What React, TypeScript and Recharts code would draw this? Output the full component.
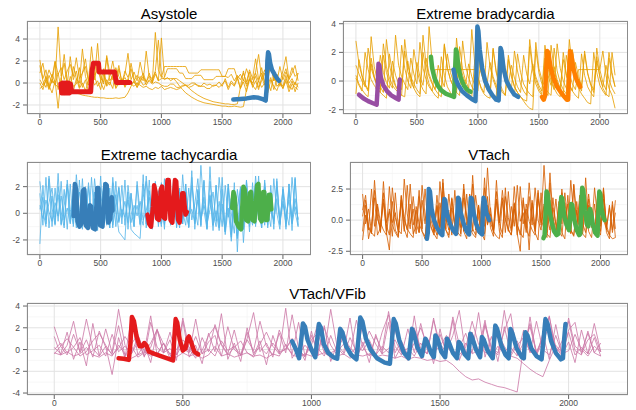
import { LineChart, Line, XAxis, YAxis, CartesianGrid } from 'recharts'

const STEP = 25
const X_TICKS = [0, 500, 1000, 1500, 2000]
const X_MINOR = [250, 750, 1250, 1750]
const X_DOMAIN: [number, number] = [-106, 2231]

const RED = '#E41A1C'
const BLUE = '#377EB8'
const GREEN = '#4DAF4A'
const PURPLE = '#984EA3'
const ORANGE = '#FF7F00'

// ---------- Asystole (background traces sampled every 25)
const asy1 = [2.1, 0.4, 1.2, -0.3, 0.8, 0.1, 5.1, 0.6, 1.8, -0.2, 2.4, 0.3, 1.1, -0.4, 0.9, 2.2, 0.2, 1.4, 0.5, 3.6, 0.1, 1.3, -0.2, 0.7, 2.0, 0.4, 1.6, 0.0, 0.8, 2.7, 0.3, 1.0, 0.2, 1.9, 0.6, 0.1, 0.9, 0.0, 4.6, 1.2, 0.5, 1.5, 1.5, 1.5, 1.5, 1.5, 1.5, 1.5, 1.5, 0.9, 0.9, 0.9, 0.9, 1.2, 1.2, 1.2, 1.2, 1.2, 1.2, 1.2, 0.6, 0.6, 0.5, 0.8, 0.2, 0.7, 0.3, 0.9, 0.1, 1.2, 0.4, 2.2, 0.3, 0.9, 0.1, 0.6, 1.8, 0.2, 0.7, 0.0, 1.1, 2.4, 0.3, 0.9, 1.6, 0.2]
const asy2 = [-0.5, -0.3, 0.2, -0.6, 0.4, -0.2, 0.9, -0.5, 0.1, -0.7, 0.6, -0.3, -0.1, 1.4, -0.4, 0.3, -0.8, 0.5, -0.2, 0.2, -0.6, 0.8, -0.3, 0.1, -0.5, 1.1, -0.2, 0.4, -0.4, 0.2, -0.1, -0.3, 0.0, -0.2, -0.4, -0.3, -0.5, -0.6, -0.4, -0.5, -0.3, -0.6, -0.5, -0.4, -0.5, -0.6, -0.5, -0.3, -0.2, -0.4, -0.3, -0.1, -0.2, -0.3, 0.0, -0.2, -0.1, -0.3, -0.2, 0.1, -0.3, 0.4, -0.4, 0.2, -0.2, 0.6, -0.5, 0.3, -0.1, 1.0, -0.4, 0.2, -0.6, 0.5, -0.2, 0.1, -0.7, 0.8, -0.3, 0.0, -0.5, 0.4, -0.2, -0.6, 0.1, -0.4]
const asy3 = [1.6, 0.2, -0.4, 0.7, 0.0, 1.9, -0.6, 0.3, 2.6, 0.1, -0.3, 1.5, 0.4, 0.0, 3.1, 0.6, -0.2, 1.0, 0.3, 1.7, 0.8, -0.1, 2.3, 0.2, 0.6, -0.4, 1.3, 0.1, 0.5, 0.0, 1.8, 0.4, -0.2, 0.6, 0.2, 2.9, 0.5, 0.1, 1.1, 3.9, 0.7, 0.3, 0.5, 0.2, 0.4, 0.1, -0.3, -0.6, -0.9, -1.1, -1.3, -1.45, -1.6, -1.7, -1.8, -1.85, -1.9, -1.95, -2.0, -2.05, -2.1, -2.1, -2.15, -2.15, -2.1, -2.15, -2.2, -2.15, -0.6, 0.4, -0.2, 0.9, 0.1, 1.4, -0.1, 0.5, 2.1, 0.2, 0.8, -0.3, 0.6, 1.3, 0.0, 0.4, -0.2, 0.9]
const asy4 = [0.3, -0.2, 0.6, -0.5, 0.2, -0.1, -0.4, 0.1, -0.5, -0.3, -0.6, -0.8, -0.9, -1.0, -1.1, -1.15, -1.2, -1.25, -1.3, -1.3, -1.35, -1.35, -1.4, -1.4, -1.4, -1.35, -1.4, -1.35, -1.3, -0.9, -0.3, 0.2, -0.4, 0.1, 0.6, -0.2, 0.3, 0.0, 0.8, 0.2, 0.4, 0.4, 0.4, 0.4, 0.4, 0.4, 0.2, 0.0, -0.2, -0.45, -0.7, -0.9, -1.1, -1.25, -1.4, -1.5, -1.6, -1.7, -1.75, -1.8, -1.85, -1.9, -1.9, -1.95, -1.95, -1.9, -0.4, 1.1, -0.3, 0.4, 0.0, 0.6, -0.4, 0.2, 0.9, -0.2, 0.5, -0.6, 0.3, 0.1, -0.3, 0.7, -0.5, 0.2, -0.8, 0.0]
const asy5 = [0.9, 1.8, 0.2, 1.2, 0.5, 2.0, 0.8, 1.4, 0.3, 1.1, 1.7, 0.6, 2.3, 0.4, 0.9, 1.5, 0.2, 3.3, 0.7, 1.2, 0.4, 0.1, 2.5, 0.9, 0.3, 1.4, 0.6, 0.0, 1.1, 0.5, 1.3, 0.2, 0.7, 0.3, 0.9, 0.1, 0.6, 0.4, 1.0, 0.2, 4.1, 0.5, 1.3, 1.3, 1.3, 1.3, 0.9, 0.9, 0.4, 0.4, 0.4, 0.7, 0.7, 0.7, 0.3, 0.3, 0.3, 0.3, 0.6, 0.6, 0.6, 0.6, 1.3, 1.3, 1.3, 0.4, 0.8, 0.2, 1.3, 0.5, 0.3, 1.0, 2.6, 0.4, 1.2, 0.2, 1.8, 0.7, 0.1, 1.5, 0.3, 1.0, 0.4, 1.4, 0.6, 0.9]
const asy6 = [0.0, -0.6, 0.3, -0.2, -0.9, 0.2, -2.3, 0.5, -1.1, 0.1, -0.3, -0.8, 0.4, -0.5, 0.0, -0.7, 0.2, -0.4, 0.6, -0.3, 0.1, -0.6, 0.3, -0.2, 0.8, -0.5, 0.0, 0.2, -0.3, 0.4, -0.1, 0.1, -0.4, 0.3, -0.2, 0.0, 0.2, -0.1, 0.1, 0.0, -0.2, -0.3, -0.3, -0.1, -0.1, -0.4, -0.4, -0.2, -0.2, -0.2, 0.0, 0.0, -0.3, -0.3, -0.3, -0.5, -0.5, -0.2, -0.2, -0.4, -0.1, 0.2, -0.6, 0.0, -0.3, 0.4, -0.5, 0.1, -0.8, 0.3, -0.2, -0.6, 0.2, -0.4, 0.0, -0.9, 0.3, -0.3, -0.7, 0.1, -0.5, 0.2, -0.8, -0.1, -0.4, -0.6]

const asyRedX = [172, 180, 188, 196, 204, 212, 220, 228, 236, 244, 252, 262, 300, 360, 418, 428, 440, 470, 482, 488, 560, 615, 622, 630, 740]
const asyRedY = [-0.1, -0.9, 0.0, -0.9, 0.0, -0.9, 0.0, -0.9, 0.0, -0.9, -0.1, -0.8, -0.8, -0.8, -0.8, 1.0, 1.8, 1.8, 1.8, 1.0, 1.0, 1.0, 0.5, 0.05, 0.05]
const asyBlueX = [1592, 1650, 1700, 1760, 1800, 1840, 1858, 1866, 1872, 1878, 1885, 1895, 1910, 1930, 1950, 1968]
const asyBlueY = [-1.5, -1.45, -1.4, -1.3, -1.35, -1.5, -1.6, -0.5, 2.0, 2.8, 2.6, 1.8, 1.2, 0.8, 0.45, 0.2]

// ---------- Extreme bradycardia
const bra1 = [2.8, 1.2, 0.3, -0.3, -0.7, 3.1, 1.0, 0.1, -0.4, -0.8, 2.9, 1.1, 0.2, -0.4, -0.7, 2.5, 0.9, 0.0, -0.5, 2.2, 0.8, -0.1, -0.6, -0.9, 3.8, 1.3, 0.3, -0.3, -0.7, 2.6, 0.9, 0.1, -0.4, -0.8, 2.4, 0.8, 0.0, -0.5, 3.6, 1.2, 0.2, -0.4, -0.8, 2.7, 1.0, 0.1, -0.5, -0.9, 2.3, 0.8, -0.1, -0.6, 2.1, 0.7, -0.2, -0.7, -1.0, 2.9, 1.0, 0.1, -0.5, -0.9, 2.5, 0.9, 0.0, -0.6, 2.6, 0.9, 0.0, -0.5, -0.9, 2.2, 0.7, -0.2, -0.7, 2.1, 0.6, -0.3, -0.8, 2.3, 0.8, -0.1, -0.6, 2.0, 0.6, -0.4]
const bra2 = [0.4, -0.2, -0.6, -0.9, -1.1, 1.6, 0.3, -0.4, -0.8, -1.0, -1.2, 1.9, 0.5, -0.3, -0.7, -1.0, -1.1, 1.4, 0.2, -0.5, -0.9, -1.1, 2.0, 0.6, -0.2, -0.7, -1.0, -1.2, 1.7, 0.4, -0.4, -0.8, -1.1, 3.0, 0.9, -0.1, -0.6, -0.9, -1.1, 1.5, 0.3, -0.5, -0.9, -1.1, -1.2, 2.2, 0.6, -0.3, -0.8, -1.0, 1.8, 0.4, -0.4, -0.8, -1.1, -1.3, -1.4, 2.4, 0.7, -0.2, -0.7, -1.0, -1.2, 1.6, 0.3, -0.5, -0.9, -1.1, 2.0, 0.5, -0.3, -0.7, -1.0, -1.2, 1.9, 0.4, -0.4, -0.8, -1.1, 1.7, 0.3, -0.5, -0.9, -1.1, 2.0, 0.4]
const bra3 = [1.1, 0.5, 0.0, -0.4, 2.3, 0.9, 0.2, -0.3, -0.6, 1.8, 0.6, -0.1, -0.5, 3.2, 1.1, 0.3, -0.2, -0.6, 1.6, 0.5, -0.2, 2.7, 0.9, 0.1, -0.4, -0.7, 0.8, 0.8, 0.8, 0.8, 0.8, 0.8, 0.8, 0.8, 0.8, 0.8, 0.8, 0.8, 0.8, 0.8, 1.9, 0.6, -0.1, -0.6, -0.9, 2.3, 0.7, -0.1, -0.6, -1.0, 1.5, 0.3, -0.4, -0.8, -1.1, -1.4, -1.7, -1.9, -2.0, 2.2, 0.6, -0.2, -0.7, -1.0, 2.5, 0.8, -0.1, -0.6, -1.0, 1.8, 0.5, -0.2, -0.6, 0.8, 0.8, 0.8, 0.8, 0.8, 0.8, 0.8, 0.8, 2.1, 0.4, -0.5, -1.0, -1.9]
const bra4 = [0.2, -0.3, -0.7, 2.0, 0.8, 0.1, -0.3, -0.6, -0.8, 2.6, 1.0, 0.2, -0.3, -0.6, -0.8, -1.0, 2.9, 1.1, 0.3, -0.2, -0.6, -0.9, 3.2, 1.2, 0.3, -0.2, -0.6, -0.9, -1.1, 2.5, 0.9, 0.1, -0.4, -0.8, -1.0, 2.8, 1.0, 0.2, -0.4, -0.7, 2.0, 0.7, 0.0, -0.5, -0.8, -1.0, -1.2, 2.4, 0.8, 0.0, -0.5, -0.8, -1.1, 1.9, 0.6, -0.2, -0.6, -0.9, -1.1, 2.7, 0.9, 0.1, -0.4, -0.8, -1.0, 2.3, 0.7, -0.1, -0.6, -0.9, 2.9, 0.9, 0.0, -0.5, -0.9, -1.2, -1.5, -1.6, 2.0, 0.6, -0.3, -0.7, -1.0, 1.6, 0.4, -0.4]
const bra5 = [-0.9, 1.5, 0.4, -0.2, -0.6, 1.2, 0.3, -0.3, 1.8, 0.6, -0.1, -0.5, 1.4, 0.4, -0.2, -0.6, 2.1, 0.7, 0.0, -0.5, 1.3, 0.3, -0.3, 1.6, 0.5, -0.1, -0.6, 1.1, 0.2, -0.4, 1.9, 0.6, -0.1, -0.6, 1.4, 0.4, -0.2, 1.2, 0.3, -0.3, -0.7, 1.7, 0.5, -0.2, 1.3, 0.3, -0.3, -0.7, 1.5, 0.4, -0.2, 1.1, 0.2, -0.4, -0.8, 1.8, 0.5, -0.2, 1.2, 0.3, -0.3, -0.7, 1.6, 0.4, -0.3, 1.0, 0.1, -0.5, 1.5, 0.4, -0.2, -0.7, 1.3, 0.3, -0.3, 1.9, 0.5, -0.2, -0.6, 1.4, 0.3, -0.4, 1.1, 0.1, -0.5, -0.9]

const braPurpleX = [25, 60, 100, 140, 170, 178, 185, 192, 205, 225, 255, 290, 330, 350, 354, 360]
const braPurpleY = [-0.95, -1.2, -1.4, -1.55, -1.65, -0.5, 1.2, 1.1, 0.2, -0.3, -0.7, -1.0, -1.2, -1.3, -0.5, 0.1]
const braGreenX = [615, 625, 645, 670, 700, 740, 790, 805, 812, 820, 828, 840, 860, 885, 910, 940]
const braGreenY = [1.7, 0.9, 0.2, -0.3, -0.65, -0.9, -1.05, -1.1, 0.5, 2.2, 2.0, 1.0, 0.2, -0.3, -0.6, -0.75]
const braBlueX = [800, 815, 840, 870, 910, 950, 980, 988, 996, 1004, 1015, 1035, 1060, 1090, 1120, 1150, 1170, 1178, 1186, 1194, 1210, 1235, 1265, 1300, 1330]
const braBlueY = [0.8, 0.2, -0.3, -0.7, -1.0, -1.25, -1.4, 0.5, 3.8, 3.5, 2.2, 0.9, 0.0, -0.6, -1.0, -1.3, -1.35, 0.3, 2.3, 2.1, 0.9, 0.0, -0.5, -0.95, -1.1]
const braOrangeX = [1525, 1540, 1552, 1560, 1568, 1578, 1595, 1620, 1650, 1690, 1730, 1740, 1748, 1756, 1765, 1780, 1800, 1820, 1840]
const braOrangeY = [-1.1, -1.3, -1.0, 0.8, 2.1, 2.0, 1.0, 0.2, -0.4, -0.9, -1.3, -1.3, 0.5, 2.1, 1.9, 1.0, 0.3, -0.1, -0.4]

// ---------- Extreme tachycardia
const tac1 = [-2.3, 2.1, -0.8, 2.6, -1.0, 1.9, -0.6, 2.4, -0.9, 2.2, -0.7, 1.8, -1.1, 2.5, -0.8, 2.0, -0.9, 2.7, -0.6, 1.7, -1.0, 2.3, -0.8, 1.9, -1.1, 2.4, -0.7, 2.1, -0.9, 1.6, -1.2, -1.5, -1.7, -1.9, 2.2, -0.8, 2.5, -1.0, 1.8, -0.7, 2.3, -0.9, 2.0, -0.6, 2.6, -1.0, 1.9, -0.8, 2.2, -1.1, 2.7, -0.8, 1.7, -1.0, 2.4, -1.2, 3.5, -0.9, 2.1, -1.1, 1.8, -1.4, 2.2, -1.6, 1.5, -1.9, 2.0, -2.2, 1.3, -1.4, 2.3, -1.0, 1.9, -0.7, 2.5, -1.1, 2.1, -0.8, 2.4, -0.9, 1.8, -1.2, 2.2, -0.7, 2.6, -1.0]
const tac2 = [0.3, 1.2, -0.5, 0.8, 1.9, -0.3, 1.4, -0.8, 0.6, 2.1, -0.4, 1.0, -0.9, 1.6, 0.2, -0.7, 2.3, -0.2, 1.1, -0.6, 0.7, 1.8, -0.5, 1.3, -0.9, 0.4, 2.0, -0.3, 0.9, -0.7, 1.5, -0.4, 0.6, -0.8, 1.2, 2.4, -0.6, 0.8, -0.4, 1.7, -0.8, 0.5, 2.2, -0.3, 1.0, -0.7, 1.4, 0.1, -0.9, 1.9, -0.5, 0.7, 2.6, -0.4, 1.2, -0.8, 0.3, 1.6, -0.6, 0.9, -1.0, 2.1, -0.3, 1.1, -0.7, 0.5, 1.8, -0.6, 1.3, -0.4, 0.8, 2.3, -0.5, 1.0, -0.9, 1.5, 0.2, -0.6, 2.0, -0.4, 0.9, -0.8, 1.7, -0.3, 1.1, -0.5]
const tac3 = [1.5, -0.9, 2.7, -1.1, 1.3, -0.8, 3.0, -0.9, 1.8, -1.2, 2.2, -1.0, 1.2, -0.9, 2.6, -1.1, 2.0, -0.8, 1.6, -1.3, 2.8, -0.9, 1.4, -1.1, 2.3, -1.0, 1.9, -0.8, 2.5, -1.2, 1.5, -1.0, 2.1, -0.9, 2.9, -1.1, 1.7, -0.8, 2.4, -1.0, 1.3, -1.2, 2.6, -0.9, 2.0, -1.1, 1.6, -0.8, 2.2, -1.0, 3.2, -1.2, 1.8, -0.9, 2.5, -1.1, 1.4, -1.3, 2.1, -1.0, 2.7, -1.4, 1.9, -1.8, 2.3, -2.9, 1.7, -1.2, 2.4, -1.0, 1.5, -0.8, 2.8, -1.1, 2.0, -0.9, 1.6, -1.2, 2.6, -0.8, 1.8, -1.0, 2.2, -1.3, 2.7, -0.9]
const tac4 = [0.6, -0.4, 1.0, 0.1, -0.6, 0.8, -0.2, 1.3, -0.5, 0.4, -0.8, 0.9, 0.0, -0.5, 1.5, -0.3, 0.7, -0.7, 0.2, 1.1, -0.4, 0.5, -0.9, 0.8, -0.1, 1.4, -0.6, 0.3, -0.3, 1.0, -0.7, 0.6, -0.2, 0.9, -0.5, 0.2, 1.2, -0.6, 0.4, -0.3, 0.8, -0.8, 1.1, -0.1, 0.5, -0.6, 0.9, -0.4, 1.6, -0.2, 0.3, -0.7, 1.0, -0.5, 0.6, -0.3, 1.3, -0.9, 0.2, -1.3, 0.7, -1.6, 0.4, -2.1, 0.8, -1.7, 0.5, -1.1, 1.2, -0.4, 0.6, -0.8, 0.9, -0.2, 1.4, -0.6, 0.3, -0.5, 1.1, -0.7, 0.7, -0.3, 1.0, -0.8, 0.5, -0.4]
const tac5 = [2.4, 0.2, -1.0, 2.8, 0.4, -0.9, 2.0, 0.1, -1.1, 2.5, 0.3, -0.8, 2.9, 0.2, -1.2, 1.9, 0.0, -1.0, 2.6, 0.4, -0.9, 2.2, 0.1, -1.1, 2.7, 0.3, -1.4, -1.7, -2.0, 2.1, 0.2, -1.0, 2.4, 0.0, -0.9, 2.8, 0.3, -1.2, 2.0, 0.1, -1.0, 2.6, 0.4, -0.8, 2.3, 0.2, -1.1, 2.9, 0.0, -1.0, 2.1, 0.3, -0.9, 3.6, 0.2, -1.2, 2.4, 0.1, -1.0, 2.7, 0.3, -1.3, 2.2, 0.0, -1.5, 1.8, -0.2, -1.2, 2.5, 0.2, -0.9, 2.8, 0.1, -1.1, 2.3, 0.3, -1.0, 2.6, 0.0, -1.2, 2.0, 0.2, -0.9, 2.7, 0.1, -1.0]

const tacBlueX = [278, 288, 298, 310, 325, 340, 355, 365, 378, 395, 412, 422, 435, 455, 472, 482, 495, 515, 540, 550, 563, 580, 592, 598]
const tacBlueY = [-0.2, 2.2, 1.8, -0.6, -1.0, -0.8, 1.7, 1.8, -0.9, -1.1, 0.6, 0.5, -1.1, -1.2, 1.9, 1.9, -0.9, -1.0, 2.2, 2.1, -0.7, -0.4, 1.2, 0.2]
const tacRedX = [885, 900, 915, 930, 940, 952, 965, 980, 995, 1005, 1018, 1030, 1050, 1060, 1075, 1090, 1112, 1122, 1138, 1150, 1172, 1182, 1198, 1210]
const tacRedY = [-0.1, -0.8, -1.0, 0.5, 2.1, 1.6, -0.4, -0.5, 1.8, 2.0, -0.3, -0.4, 2.5, 2.5, -0.5, -0.7, 2.5, 2.4, -0.5, -0.7, 1.5, 1.5, -0.1, 0.1]
const tacGreenX = [1582, 1593, 1603, 1615, 1635, 1655, 1665, 1675, 1685, 1698, 1712, 1727, 1737, 1750, 1765, 1788, 1798, 1812, 1825, 1838, 1846, 1858, 1872, 1886, 1895, 1905]
const tacGreenY = [0.4, 1.6, 1.2, -0.6, -1.0, -1.2, 0.4, 2.0, 1.8, -0.5, -0.6, 1.5, 1.6, -0.5, -0.6, 2.1, 2.2, -0.4, -0.6, 1.6, 1.6, -0.5, -0.5, 1.4, 1.4, 0.3]

// ---------- VTach
const vt1 = [0.8, 2.0, -0.6, -1.1, 2.4, 0.3, -0.9, 1.7, -0.4, -1.2, 2.6, 0.2, -0.8, -1.1, 3.3, 0.5, -0.7, 1.9, -0.3, -1.0, 2.8, 0.4, -0.8, 1.6, -0.5, -1.2, 3.1, 0.6, -0.7, 2.1, -0.2, -1.0, 1.8, -0.6, 2.9, 0.3, -0.9, 3.6, 0.2, -1.1, 1.5, -0.5, 4.2, 0.4, -0.8, 2.3, -0.3, -1.1, 1.9, 0.2, -0.9, 2.7, -0.4, -1.2, 1.6, -0.6, 3.0, 0.3, -0.9, 2.2, -0.2, 4.4, 0.5, -0.8, 1.8, -0.5, -1.1, 2.5, 0.1, -0.9, 3.2, 0.4, -0.7, 2.0, -0.3, -1.0, 1.7, -0.6, 2.6, 0.2, -0.9, 2.1, -0.4, -1.2, 1.5, -0.7]
const vt2 = [-0.9, 1.2, -1.5, -0.3, 1.8, -1.2, -0.6, 2.2, -1.0, -2.4, 1.5, -0.8, -1.3, 2.0, -0.7, -1.4, 1.3, -1.1, -0.5, 2.4, -0.9, -1.5, 1.6, -0.6, -1.2, 1.1, -1.0, 2.3, -0.8, -1.4, 1.7, -0.5, -1.1, 1.4, -0.9, -1.5, 2.1, -0.7, -1.2, 1.2, -1.0, -1.6, 1.9, -0.6, -1.3, 1.5, -0.9, -1.4, 2.6, -0.8, -1.2, 1.3, -1.1, -2.5, 1.8, -0.7, -1.3, 1.4, -1.0, -1.6, 2.2, -0.9, -1.4, 1.6, -0.6, -1.2, 1.1, -1.0, -1.5, 2.0, -0.8, -1.3, 1.5, -0.7, -1.1, 1.9, -0.9, -1.4, 1.3, -0.6, -1.2, 1.7, -1.0, -1.5, 1.2, -1.4]
const vt3 = [2.1, -0.3, 0.9, -1.0, 3.2, 0.1, -0.6, 1.4, -0.9, 2.7, -0.2, 0.6, -1.1, 1.9, 0.3, -0.8, 2.9, -0.4, 0.8, -1.0, 1.6, -0.3, 2.3, 0.0, -0.9, 1.2, -0.5, 3.0, 0.2, -0.8, 1.8, -0.2, 0.7, -1.1, 2.5, -0.4, 1.0, -0.9, 2.0, 0.1, -0.7, 3.4, -0.3, 0.5, -1.0, 1.7, -0.2, 2.4, 0.2, -0.9, 1.1, -0.5, 2.8, -0.1, 0.6, -1.0, 1.9, -0.4, 2.6, 0.0, -0.8, 1.3, -0.6, 3.8, 0.3, -0.9, 1.5, -0.3, 2.2, -0.1, -1.0, 2.9, 0.4, -0.7, 1.4, -0.5, 2.1, 0.1, -0.9, 1.8, -0.3, 2.5, -0.6, 1.0, -0.8, 1.6]
const vt4 = [-1.6, 0.4, -0.5, -1.0, -1.3, 1.3, -0.2, -0.8, -1.2, 0.9, -0.4, -1.0, -1.4, 1.6, 0.0, -0.7, -1.1, -1.4, 1.1, -0.3, -0.9, -1.3, 0.7, -0.5, -1.1, -1.5, 1.4, -0.1, -0.8, -1.2, 1.0, -0.4, -1.0, -1.3, 1.8, 0.1, -0.6, -1.1, -1.4, 0.8, -0.5, -1.1, 1.2, -0.2, -0.9, -1.3, -1.5, 1.5, 0.0, -0.7, -1.2, 0.9, -0.4, -1.0, -1.4, 1.3, -0.1, -0.8, -1.2, 1.7, 0.1, -0.7, -1.1, -1.4, 1.0, -0.3, -0.9, -1.3, 1.4, -0.2, -0.8, -1.2, 0.8, -0.5, -1.1, -1.4, 1.2, -0.1, -0.8, -1.3, 1.6, 0.0, -0.7, -1.2, -1.5, -1.4]
const vt5 = [0.3, 1.6, -0.8, 2.5, -0.5, 1.1, -1.0, 3.1, -0.2, 0.7, -1.3, 2.2, -0.6, 1.4, -0.9, 2.8, -0.3, 0.9, -1.1, 1.9, -0.7, 2.5, -0.4, 1.3, -1.0, 2.0, -0.6, 3.3, -0.1, 0.8, -1.2, 2.4, -0.5, 1.5, -0.9, 2.1, -0.3, 2.9, -0.8, 1.2, -1.1, 2.6, -0.4, 1.0, -0.9, 3.2, -0.2, 1.8, -1.0, 2.3, -0.6, 1.4, -1.2, 2.7, -0.3, 0.9, -2.4, 1.6, -0.7, 2.4, -0.4, 1.1, -1.0, 3.0, -0.5, 1.7, -0.8, 2.2, -0.3, 1.3, -1.1, 2.8, -0.6, 1.5, -0.9, 3.4, -0.2, 1.0, -1.2, 2.0, -0.5, 2.6, -0.8, 1.2, -1.0, 0.6]

const vtBlueX = [540, 548, 556, 566, 580, 600, 625, 650, 670, 678, 686, 694, 710, 735, 760, 785, 795, 803, 810, 825, 850, 875, 895, 902, 910, 918, 933, 955, 980, 1005, 1010, 1017, 1025, 1040, 1065]
const vtBlueY = [-1.5, -1.0, 2.5, 2.3, 0.9, 0.0, -0.6, -1.0, -1.2, 0.2, 1.7, 1.6, 0.5, -0.3, -0.8, -1.1, 0.3, 1.8, 1.7, 0.6, -0.3, -0.9, -1.15, 0.5, 1.8, 1.7, 0.6, -0.3, -0.9, -1.15, 0.5, 1.8, 1.6, 0.6, 0.0]
const vtGreenX = [1520, 1530, 1538, 1546, 1555, 1570, 1590, 1610, 1630, 1645, 1660, 1670, 1678, 1695, 1715, 1735, 1745, 1755, 1763, 1780, 1800, 1820, 1830, 1838, 1846, 1855, 1870, 1885, 1898, 1905, 1912, 1920, 1935, 1955, 1975, 1982, 1990, 1998, 2010, 2025, 2035]
const vtGreenY = [-1.45, -1.2, 0.5, 2.3, 2.1, 0.8, -0.2, -0.9, -1.2, -1.1, 0.5, 1.85, 1.75, 0.3, -0.4, -0.8, 0.3, 1.3, 1.2, 0.0, -0.8, -1.2, -1.1, 1.0, 2.6, 2.4, 0.8, -0.3, -0.5, 0.5, 0.9, 0.6, -0.3, -1.0, -1.25, 0.6, 2.3, 2.1, 0.9, 0.2, 0.0]

// ---------- VTach/VFib
const vf1 = [2.1, 0.3, -0.5, 1.4, -0.2, 2.8, 0.1, -0.6, 1.9, -0.3, 3.7, 0.4, -0.4, 1.2, -0.7, 2.5, 0.2, -0.3, 1.6, -0.5, 2.9, 0.0, -0.8, 1.1, -0.2, 2.3, 0.5, -0.4, 1.8, -0.6, 0.9, -0.1, 2.6, 0.3, -0.5, 1.5, -0.3, 3.2, 0.1, -0.7, 1.3, -0.2, 2.0, 0.4, -0.5, 1.7, -0.4, 2.7, 0.2, -0.6, 1.2, -0.1, 3.5, 0.3, -0.5, 1.9, -0.3, 2.4, 0.0, -0.7, 1.4, -0.2, 3.0, 0.4, -0.6, 1.6, -0.4, 2.2, 0.1, -0.5, 3.6, 0.2, -0.6, 1.8, -0.3, 2.6, 0.0, -0.5, 1.3, -0.4, 2.9, 0.3, -0.2, 1.5, -0.3, 0.6]
const vf2 = [-0.3, -0.5, -0.2, -0.6, -0.4, 0.2, -0.5, -0.7, -0.3, -0.6, 0.4, -0.4, -0.8, -0.5, -0.2, -0.6, -0.4, 0.6, -0.5, -0.7, -0.3, -0.6, -0.4, -0.8, -0.5, 0.3, -0.6, -0.4, -0.7, -0.5, -0.3, -0.6, -0.5, -0.8, -0.4, -0.6, 0.5, -0.5, -0.7, -0.4, -0.6, -0.5, -0.3, -0.7, -0.6, -0.4, -0.8, -0.5, -0.6, -0.4, -0.7, -0.5, -0.6, -0.8, -0.6, -0.9, -0.7, -0.8, -1.0, -0.9, -1.1, -1.0, -1.4, -2.0, -2.5, -2.8, -2.7, -3.0, -3.2, -3.4, -3.5, -3.7, -3.9, 0.2, 2.4, -0.2, 1.1, 3.1, -0.4, 0.8, 2.6, -0.1, -0.5, 1.7, -0.3, -0.6]
const vf3 = [0.2, -0.4, 1.6, -0.9, 0.7, -1.5, 2.4, -0.6, 0.3, -2.3, 1.1, -0.8, 3.0, -0.5, 0.5, -1.2, 1.8, -0.3, 0.9, -1.0, 2.6, -0.7, 0.4, -1.3, 1.5, -0.2, 3.3, -0.9, 0.6, -1.1, 2.0, -0.5, 0.8, -1.4, 1.3, -0.4, 3.8, -0.8, 0.2, -1.0, 1.7, -0.6, 2.2, -1.1, 0.5, -0.3, 2.9, -0.9, 0.7, -1.2, 1.4, -0.4, 2.5, -0.8, 0.3, -1.0, 3.1, -0.6, 0.9, -1.3, 1.9, -0.5, 2.7, -1.0, 0.6, -0.3, 3.4, -0.7, 1.2, -1.1, 2.1, -0.4, 0.8, -1.0, 3.0, -0.6, 1.5, -0.9, 2.3, -0.5, 0.7, -1.2, 1.8, -0.4, 2.4, -0.2]
const vf4 = [-0.4, 0.3, 1.0, 0.2, -0.6, -0.2, 0.8, 1.5, 0.4, -0.5, 0.1, 1.2, 0.3, -0.7, -0.3, 0.6, 1.8, 0.5, -0.4, 0.0, 0.9, 0.2, -0.6, -0.1, 1.3, 2.1, 0.4, -0.5, 0.2, 0.8, -0.3, -0.7, 0.5, 1.6, 0.3, -0.4, 0.1, 1.0, -0.2, -0.6, 0.4, 2.4, 0.6, -0.3, 0.0, 1.1, 0.2, -0.5, 0.3, 1.7, 0.5, -0.4, 0.1, 0.9, -0.3, -0.6, 0.6, 2.0, 0.4, -0.2, 0.3, 1.3, -0.1, -0.5, 0.2, 2.6, 0.5, -0.3, 0.0, 1.5, 0.3, -0.6, 0.4, 1.1, -0.2, -0.5, 0.7, 2.2, 0.2, -0.4, -0.1, 1.4, 0.0, -0.6, 0.3, -0.2]
const vf5 = [0.0, 0.6, -0.3, 0.2, 1.1, -0.5, -0.1, 0.4, -0.6, 1.4, -0.2, 0.3, -0.4, 0.7, -0.6, 0.2, 1.9, -0.3, 0.1, -0.5, 0.5, -0.2, 1.2, -0.4, 0.0, -0.6, 0.8, -0.1, 0.3, -0.5, 1.6, -0.3, 0.2, -0.4, 0.6, -0.2, 0.0, 1.0, -0.5, 0.4, -0.3, 0.1, -0.6, 1.3, -0.2, 0.5, -0.4, 0.2, -0.1, 0.9, -0.5, 0.3, -0.3, 1.8, -0.2, 0.1, -0.6, 0.6, -0.4, 2.9, -0.3, 0.4, -0.5, 0.2, 1.5, -0.4, 0.0, 2.7, -0.6, 0.3, -0.4, -0.6, -0.8, -1.3, -1.8, -2.2, -2.5, -1.0, 0.4, -0.3, 1.6, -0.5, 0.2, -0.4, 1.1, -0.6]
const vf6 = [1.2, -0.5, 0.4, 2.6, -0.3, 0.9, -0.7, 1.7, 0.2, -0.4, 2.2, -0.6, 0.5, 1.4, -0.2, 3.1, -0.5, 0.6, -0.8, 1.9, 0.1, -0.3, 2.8, -0.4, 0.7, 1.3, -0.6, 2.1, 0.0, -0.5, 1.0, 3.4, -0.2, 0.6, -0.7, 1.8, 0.3, -0.4, 2.5, -0.6, 0.9, 1.5, -0.3, 3.7, 0.2, -0.5, 1.1, -0.2, 2.3, 0.4, -0.6, 1.6, 3.2, -0.3, 0.8, -0.5, 2.0, 0.1, -0.4, 2.7, 0.5, -0.2, 1.3, 3.6, -0.4, 0.9, -0.6, 2.4, 0.2, -0.3, 1.7, 3.3, -0.5, 0.6, 2.1, -0.3, 1.0, 3.0, 0.2, -0.6, 1.8, 2.5, -0.4, 0.9, 1.4, -0.2]

const vfRedX = [250, 270, 290, 296, 302, 310, 320, 332, 342, 350, 358, 368, 390, 420, 445, 462, 466, 472, 478, 488, 500, 510, 518, 524, 532, 545, 560]
const vfRedY = [-0.8, -0.85, -0.95, 0.5, 3.0, 2.6, 1.2, 0.3, 0.3, 0.6, 0.4, -0.2, -0.4, -0.65, -0.85, -1.0, 0.8, 2.8, 2.5, 0.9, -0.1, 0.1, 1.0, 1.2, 0.7, -0.2, -0.45]
const vfBlueX = [925, 940, 952, 960, 967, 975, 985, 1000, 1015, 1022, 1029, 1037, 1048, 1065, 1085, 1100, 1106, 1112, 1120, 1135, 1155, 1175, 1183, 1190, 1198, 1212, 1230, 1255, 1285, 1305, 1313, 1320, 1328, 1342, 1360, 1378, 1385, 1391, 1398, 1412, 1430, 1437, 1443, 1450, 1465, 1476, 1482, 1490, 1505, 1520, 1527, 1534, 1550, 1566, 1573, 1580, 1595, 1610, 1618, 1625, 1640, 1656, 1663, 1670, 1685, 1705, 1715, 1722, 1738, 1755, 1767, 1774, 1781, 1798, 1818, 1826, 1832, 1840, 1855, 1875, 1895, 1903, 1910, 1918, 1932, 1950, 1970, 1978, 1983, 1988]
const vfBlueY = [0.75, 0.0, -0.8, 0.8, 2.4, 2.1, 0.9, 0.0, -0.7, 0.8, 2.35, 2.0, 0.5, -0.3, -0.7, -0.85, 0.6, 1.9, 1.6, 0.3, -0.5, -0.9, 1.0, 2.95, 2.6, 1.0, 0.0, -0.8, -1.2, -1.3, 0.8, 2.8, 2.4, 0.8, -0.3, -0.8, 0.6, 1.9, 1.5, 0.2, -0.6, 0.3, 1.0, 0.7, -0.3, -0.7, 1.3, 1.0, -0.2, -0.7, 1.0, 0.7, -0.3, -0.8, 0.7, 0.5, -0.4, -0.8, 1.45, 1.1, 0.0, -0.7, 1.15, 0.9, -0.1, -0.8, 2.2, 1.9, 0.4, -0.5, -0.8, 1.9, 1.5, 0.1, -0.7, -0.8, 1.6, 1.3, 0.1, -0.6, -0.9, 1.0, 2.8, 2.4, 0.8, -0.3, -0.9, -0.8, 1.0, 2.35]

type Row = { t: number; v: number }
const sampled = (vals: number[]): Row[] => vals.map((v, i) => ({ t: i * STEP, v }))
const paired = (xs: number[], ys: number[]): Row[] => xs.map((t, i) => ({ t, v: ys[i] }))

type Highlight = { xs: number[]; ys: number[]; color: string; width: number }

type PanelProps = {
  left: number
  top: number
  w: number
  h: number
  yw: number
  yDomain: [number, number]
  yTicks: number[]
  yMinor: number[]
  bg: number[][]
  bgColor: string
  hl: Highlight[]
  fmt?: (v: number) => string
}

// room above the plot so the top tick label isn't clipped
const PAD = 8
const tickStyle = { fontSize: 8.5, fill: '#4d4d4d' }

function Panel(p: PanelProps) {
  return (
    <div style={{ position: 'absolute', left: p.left - p.yw, top: p.top - PAD }}>
      <LineChart width={p.w + p.yw} height={p.h + 18 + PAD} margin={{ top: PAD, right: 0, bottom: 0, left: 0 }}>
        <CartesianGrid stroke="#f1f1f1" strokeWidth={0.6} verticalValues={X_MINOR} horizontalValues={p.yMinor} />
        <CartesianGrid stroke="#e2e2e2" strokeWidth={1} />
        <XAxis
          dataKey="t"
          type="number"
          domain={X_DOMAIN}
          ticks={X_TICKS}
          allowDataOverflow
          interval={0}
          height={18}
          axisLine={false}
          tickSize={4}
          tickMargin={1}
          tickLine={{ stroke: '#666' }}
          tick={tickStyle}
        />
        <YAxis
          type="number"
          domain={p.yDomain}
          ticks={p.yTicks}
          allowDataOverflow
          interval={0}
          width={p.yw}
          axisLine={false}
          tickSize={4}
          tickMargin={3}
          tickLine={{ stroke: '#666' }}
          tick={tickStyle}
          tickFormatter={p.fmt}
        />
        {p.bg.map((vals, i) => (
          <Line
            key={'bg' + i}
            data={sampled(vals)}
            dataKey="v"
            type="linear"
            stroke={p.bgColor}
            strokeWidth={1}
            strokeOpacity={0.82}
            dot={false}
            isAnimationActive={false}
          />
        ))}
        {p.hl.map((s, i) => (
          <Line
            key={'hl' + i}
            data={paired(s.xs, s.ys)}
            dataKey="v"
            type="linear"
            stroke={s.color}
            strokeWidth={s.width}
            strokeLinejoin="round"
            strokeLinecap="round"
            dot={false}
            isAnimationActive={false}
          />
        ))}
      </LineChart>
    </div>
  )
}

const panels: (PanelProps & { title: string; titleY: number })[] = [
  {
    title: 'Asystole', titleY: 18.5,
    left: 27, top: 21, w: 284, h: 93, yw: 27,
    yDomain: [-2.82, 5.64], yTicks: [-2, 0, 2, 4], yMinor: [-1, 1, 3, 5],
    bg: [asy1, asy2, asy3, asy4, asy5, asy6], bgColor: '#E69F00',
    hl: [
      { xs: asyRedX, ys: asyRedY, color: RED, width: 5 },
      { xs: asyBlueX, ys: asyBlueY, color: BLUE, width: 4.5 },
    ],
  },
  {
    title: 'Extreme bradycardia', titleY: 18.5,
    left: 343, top: 21, w: 285, h: 93, yw: 27,
    yDomain: [-2.3, 4.19], yTicks: [-2, 0, 2, 4], yMinor: [-1, 1, 3],
    bg: [bra1, bra2, bra3, bra4, bra5], bgColor: '#E69F00',
    hl: [
      { xs: braPurpleX, ys: braPurpleY, color: PURPLE, width: 4.5 },
      { xs: braGreenX, ys: braGreenY, color: GREEN, width: 4.5 },
      { xs: braBlueX, ys: braBlueY, color: BLUE, width: 4.5 },
      { xs: braOrangeX, ys: braOrangeY, color: ORANGE, width: 4.5 },
    ],
  },
  {
    title: 'Extreme tachycardia', titleY: 159.5,
    left: 27, top: 162, w: 284, h: 93, yw: 27,
    yDomain: [-3.13, 3.85], yTicks: [-2, 0, 2], yMinor: [-3, -1, 1, 3],
    bg: [tac1, tac2, tac3, tac4, tac5], bgColor: '#56B4E9',
    hl: [
      { xs: tacBlueX, ys: tacBlueY, color: BLUE, width: 4.5 },
      { xs: tacRedX, ys: tacRedY, color: RED, width: 4.5 },
      { xs: tacGreenX, ys: tacGreenY, color: GREEN, width: 4.5 },
    ],
  },
  {
    title: 'VTach', titleY: 159.5,
    left: 350, top: 162, w: 278, h: 93, yw: 34,
    yDomain: [-2.8, 4.67], yTicks: [-2.5, 0, 2.5], yMinor: [-1.25, 1.25, 3.75],
    bg: [vt1, vt2, vt3, vt4, vt5], bgColor: '#D55E00',
    hl: [
      { xs: vtBlueX, ys: vtBlueY, color: BLUE, width: 4.5 },
      { xs: vtGreenX, ys: vtGreenY, color: GREEN, width: 4.5 },
    ],
    fmt: (v: number) => v.toFixed(1),
  },
  {
    title: 'VTach/VFib', titleY: 299,
    left: 27, top: 303, w: 601, h: 92, yw: 27,
    yDomain: [-4.18, 4.28], yTicks: [-4, -2, 0, 2, 4], yMinor: [-3, -1, 1, 3],
    bg: [vf1, vf2, vf3, vf4, vf5, vf6], bgColor: '#CC79A7',
    hl: [
      { xs: vfRedX, ys: vfRedY, color: RED, width: 4.5 },
      { xs: vfBlueX, ys: vfBlueY, color: BLUE, width: 4.5 },
    ],
  },
]

export default function App() {
  return (
    <div
      style={{
        position: 'absolute', left: 0, top: 0, width: 636, height: 410,
        background: '#fff', overflow: 'hidden',
        fontFamily: '"Liberation Sans", Arial, Helvetica, sans-serif',
      }}
    >
      {panels.map((p) => (
        <Panel key={p.title} {...p} />
      ))}
      <svg width={636} height={410} style={{ position: 'absolute', left: 0, top: 0, pointerEvents: 'none' }}>
        {panels.map((p) => (
          <g key={p.title}>
            <rect x={p.left + 0.5} y={p.top + 0.5} width={p.w - 1} height={p.h - 1} fill="none" stroke="#8c8c8c" strokeWidth={1} />
            <text x={p.left + p.w / 2} y={p.titleY} textAnchor="middle" fontSize={15} fill="#000">
              {p.title}
            </text>
          </g>
        ))}
      </svg>
    </div>
  )
}
